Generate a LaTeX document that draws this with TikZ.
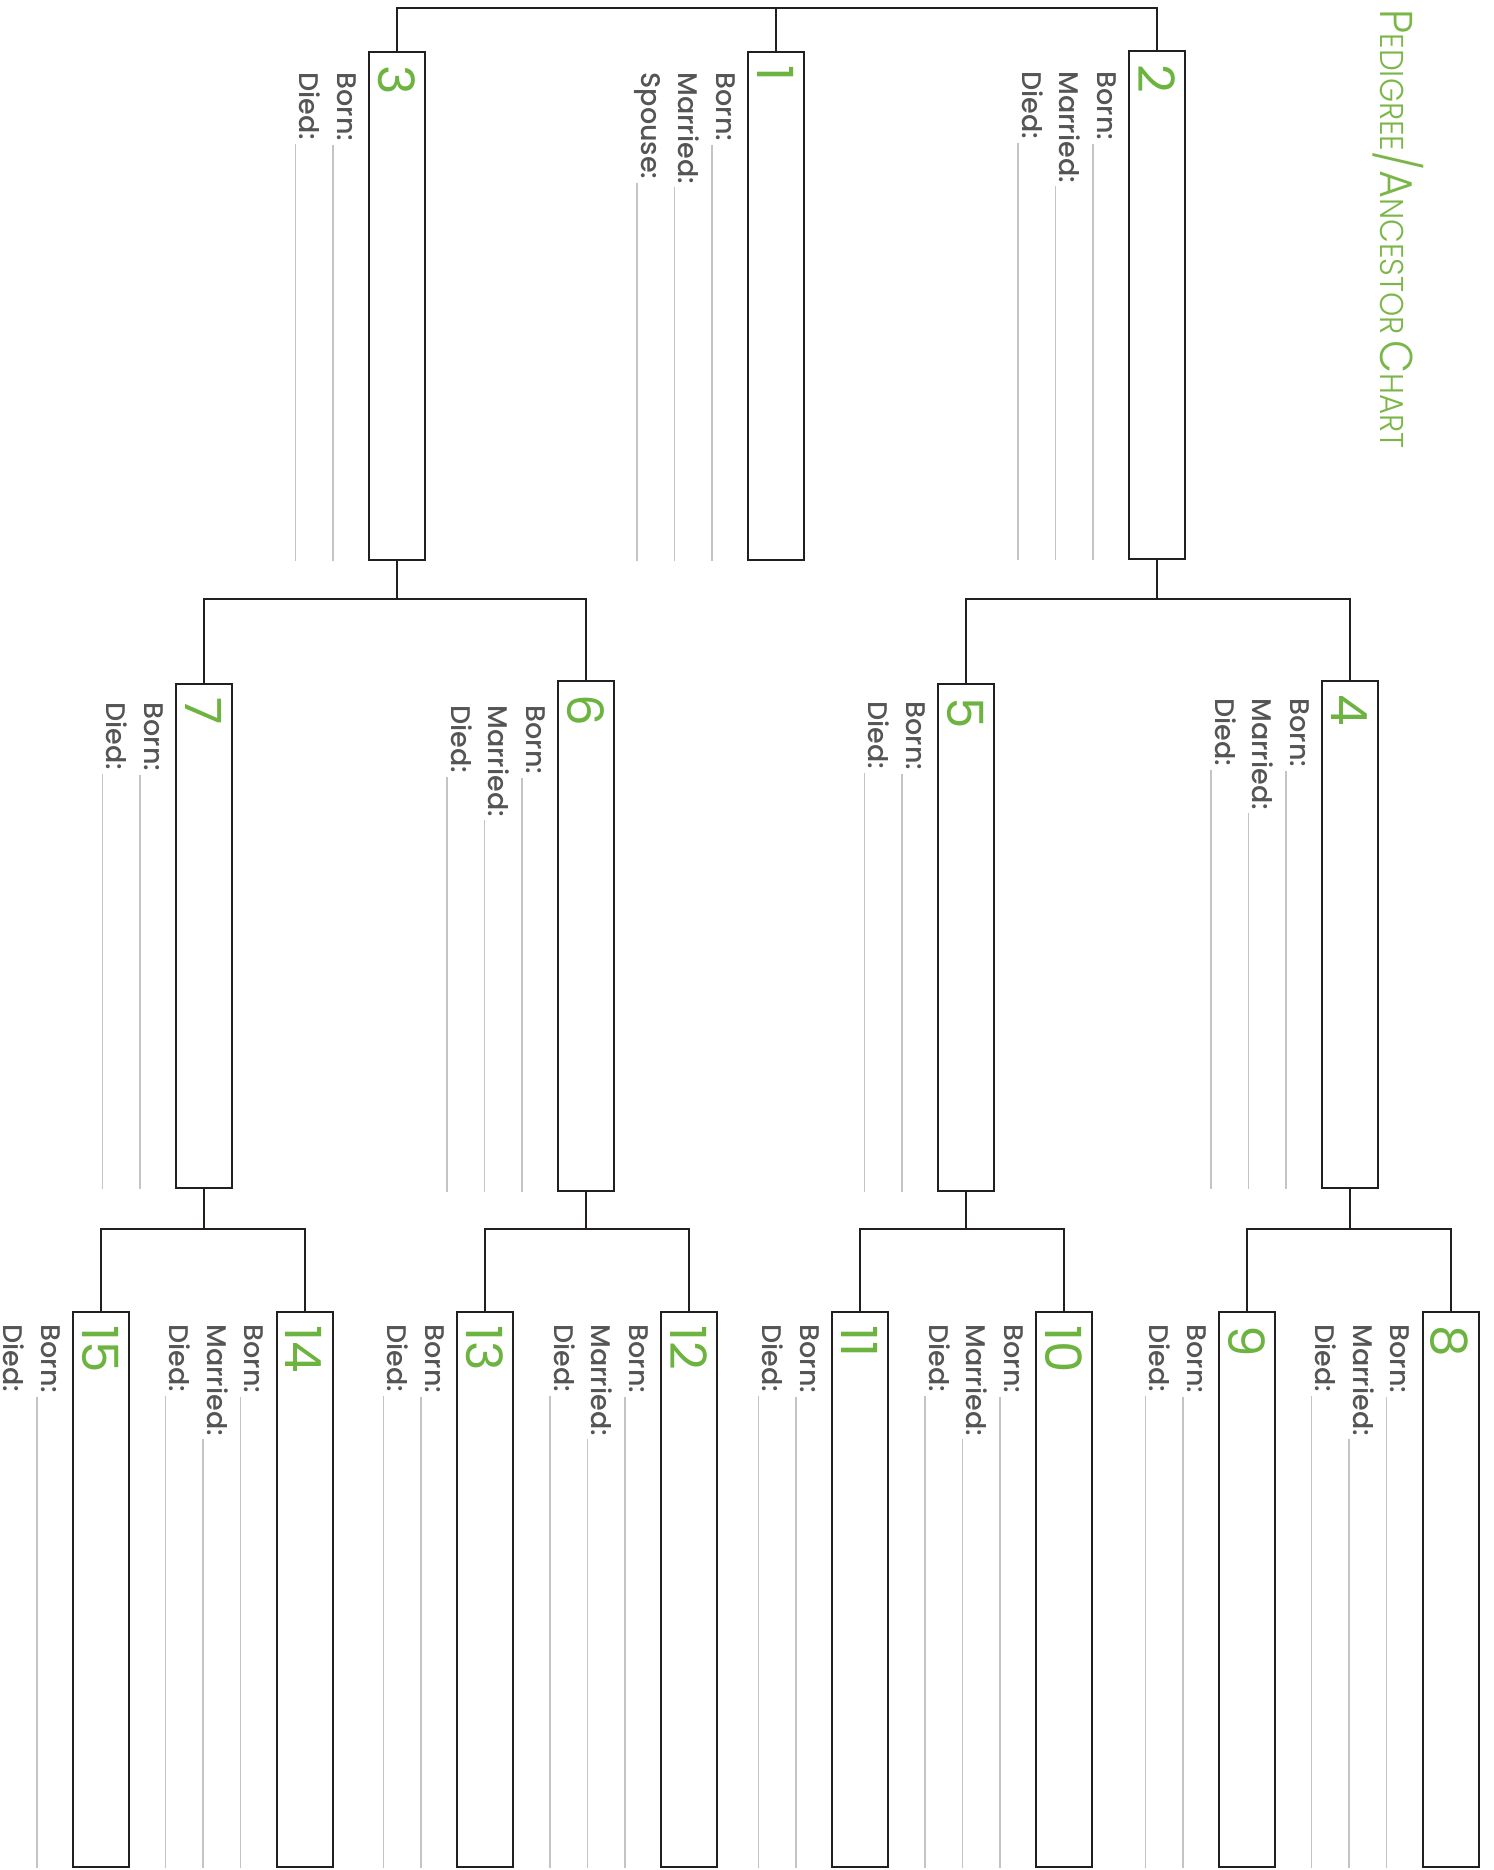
\documentclass[tikz,border=0pt]{standalone}
\usepackage{fontspec}
\setmainfont{Poppins}
\IfFontExistsTF{Poppins Light}{\newfontfamily\titlefont{Poppins Light}}{\IfFontExistsTF{Lato Light}{\newfontfamily\titlefont{Lato Light}}{\newfontfamily\titlefont{Poppins}}}
\IfFontExistsTF{Poppins Medium}{\newfontfamily\labfont{Poppins Medium}}{\newfontfamily\labfont{Poppins}}
\definecolor{boxline}{HTML}{231F20}
\definecolor{leadgray}{HTML}{C4C4C4}
\definecolor{labgray}{HTML}{555555}
\definecolor{numgreen}{HTML}{6DB33F}
\definecolor{titlegreen}{HTML}{7AB648}
\tikzset{
  personbox/.style={draw=boxline, line width=1pt, minimum width=28pt, inner sep=0pt, rectangle},
  numlabel/.style={rotate=-90, anchor=base west, inner sep=0pt, text=numgreen, font=\fontsize{25}{25}\selectfont},
  fieldlabel/.style={rotate=-90, anchor=base west, inner sep=0pt, text=labgray, font=\labfont\fontsize{13.5}{13.5}\selectfont},
  leader/.style={draw=leadgray, line width=0.8pt},
  connector/.style={draw=boxline, line width=1pt},
  titlestyle/.style={rotate=-90, anchor=base west, inner sep=0pt, text=titlegreen, font=\titlefont}
}
\newcommand\person[7]{%
  \pgfmathsetmacro\ph{(#4-#3)*0.5-1}
  \node[personbox, minimum height=\ph pt] (#1) at ({#2+29},{(#3+#4)/2}) {};
  \node[numlabel] (#1num) at ({#2+10},{#3+14}) {#5};
  \foreach \lab [count=\i] in {#7} {
    \pgfmathsetmacro\lx{#2-35-37.5*(\i-1)}
    \node[fieldlabel] (#1lab\i) at ({\lx+4},{#3+#6}) {\lab};
    \coordinate (#1end\i) at ([yshift=-1.5pt]#1lab\i.base east);
    \draw[leader] (#1end\i -| \lx,0) -- (\lx,#4);
  }
}
\newcommand\ttlbig[1]{{\fontsize{23}{23}\selectfont #1}}
\newcommand\ttlsml[1]{{\fontsize{16.5}{16.5}\selectfont #1}}
\begin{document}
\begin{tikzpicture}[x=0.5pt,y=-0.5pt]
\useasboundingbox (0,0) rectangle (1494,1870);
% title
\node[titlestyle] (title) at (1380,9) {\scalebox{0.935}[1]{\ttlbig{P}\ttlsml{EDIGREE}\ttlbig{/A}\ttlsml{NCESTOR} \ttlbig{C}\ttlsml{HART}}};
% generation 1
\person{b3}{368}{51}{561}{3}{21}{Born:,Died:}
\person{b1}{747}{51}{561}{1}{21}{Born:,Married:,Spouse:}
\person{b2}{1128}{50}{560}{2}{21}{Born:,Married:,Died:}
% generation 2
\person{b7}{175}{683}{1189}{7}{19}{Born:,Died:}
\person{b6}{557}{680}{1192}{6}{25}{Born:,Married:,Died:}
\person{b5}{937}{683}{1192}{5}{18}{Born:,Died:}
\person{b4}{1321}{680}{1189}{4}{18}{Born:,Married:,Died:}
% generation 3
\person{b15}{72}{1311}{1868}{15}{13}{Born:,Died:}
\person{b14}{275.5}{1311}{1868}{14}{13}{Born:,Married:,Died:}
\person{b13}{456}{1311}{1868}{13}{13}{Born:,Died:}
\person{b12}{660}{1311}{1868}{12}{13}{Born:,Married:,Died:}
\person{b11}{831}{1311}{1868}{11}{13}{Born:,Died:}
\person{b10}{1035}{1311}{1868}{10}{13}{Born:,Married:,Died:}
\person{b9}{1218}{1311}{1868}{9}{13}{Born:,Died:}
\person{b8}{1421.5}{1311}{1868}{8}{13}{Born:,Married:,Died:}
% connectors
\coordinate (j1) at (776,8);
\coordinate (j2) at (0,599);
\coordinate (j3) at (0,1229);
\draw[connector] (b3.north) |- (j1) -| (b2.north);
\draw[connector] (b1.north) -- (b1.north |- j1);
\draw[connector] (b3.south) -- (b3.south |- j2);
\draw[connector] (b7.north) |- (b3.south |- j2) -| (b6.north);
\draw[connector] (b2.south) -- (b2.south |- j2);
\draw[connector] (b5.north) |- (b2.south |- j2) -| (b4.north);
\draw[connector] (b7.south) -- (b7.south |- j3);
\draw[connector] (b15.north) |- (b7.south |- j3) -| (b14.north);
\draw[connector] (b6.south) -- (b6.south |- j3);
\draw[connector] (b13.north) |- (b6.south |- j3) -| (b12.north);
\draw[connector] (b5.south) -- (b5.south |- j3);
\draw[connector] (b11.north) |- (b5.south |- j3) -| (b10.north);
\draw[connector] (b4.south) -- (b4.south |- j3);
\draw[connector] (b9.north) |- (b4.south |- j3) -| (b8.north);
\end{tikzpicture}
\end{document}
